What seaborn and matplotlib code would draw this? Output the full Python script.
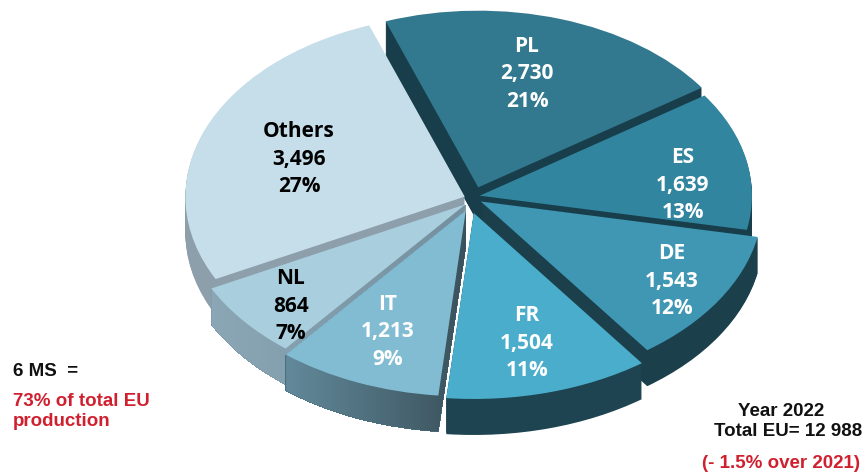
import numpy as np
import seaborn as sns
from matplotlib import pyplot as plt
from matplotlib.colors import LinearSegmentedColormap
from matplotlib.path import Path

# production by member state, year 2022
countries = ["PL", "ES", "DE", "FR", "IT", "NL", "Others"]
production = [2730, 1639, 1543, 1504, 1213, 864, 3496]
value_labels = ["2,730", "1,639", "1,543", "1,504", "1,213", "864", "3,496"]
share_labels = ["21%", "13%", "12%", "11%", "9%", "7%", "27%"]

top_colors = ["#32788e", "#32859f", "#3f97b4", "#4aadcb", "#82bcd3", "#a9cfdf", "#c6dee9"]
wall_colors = ["#173e4a", "#173e4a", "#1b404b", "#1d4450", "#4b717e", "#7f9bab", "#8c9fab"]
text_colors = ["white", "white", "white", "white", "white", "black", "black"]
explode = [0.06, 0.035, 0.045, 0.05, 0.02, 0.02, 0.02]
radii = [0.95, 0.955, 0.99, 1.0, 1.0, 1.0, 0.98]
# extra shift of each slice in pixels, the reference has some perspective
nudge = [(3, -6), (0, -7), (0, -7), (0, 0), (-2, 3), (0, -2), (0, -6)]
draw_order = [0, 1, 2, 5, 4, 3, 1]  # back slices first

# horizontal shading on the light walls, index of slice: (left, right)
wall_shade = {4: ("#62899a", "#3a525c"), 5: ("#8ba6b4", "#748f9d")}

# label position in pixels (x, y of the middle line)
label_pos = [(527, 74), (683, 185), (672, 281), (527, 343), (388, 332), (291, 306), (299, 159)]

cx, cy = 470, 204
rx, ry = 285, 186
depth = 36
start_angle = 110

sns.set_theme(style="white")
fig = plt.figure(figsize=(8.64, 4.72), dpi=100)
ax = fig.add_axes([0, 0, 1, 1])

# stack of darker pies for the side wall, top pie last
wall_paths = {i: [] for i in wall_shade}
for k in range(depth, -1, -1):
    colors = top_colors if k == 0 else wall_colors
    wedges, _ = ax.pie(
        production,
        colors=sns.color_palette(colors),
        explode=explode,
        startangle=start_angle,
        counterclock=False,
        center=(0, -k / ry),
    )
    for i, w in enumerate(wedges):
        w.set_radius(radii[i])
        w.set_center((w.center[0] + nudge[i][0] / rx, w.center[1] - nudge[i][1] / ry))
        w.set_zorder(draw_order[i] * 100 + depth - k + 1)
        w.set_linewidth(0)
        if k > 0 and i in wall_paths:
            w.set_antialiased(False)
            wall_paths[i].append(w.get_path())

xlim = (-cx / rx, (864 - cx) / rx)
ylim = ((cy - 472) / ry, cy / ry)

for i, (left, right) in wall_shade.items():
    outline = Path.make_compound_path(*wall_paths[i])
    x0, x1 = outline.vertices[:, 0].min(), outline.vertices[:, 0].max()
    y0, y1 = outline.vertices[:, 1].min(), outline.vertices[:, 1].max()
    cmap = LinearSegmentedColormap.from_list("wall", [left, right])
    im = ax.imshow(
        np.linspace(0, 1, 64).reshape(1, -1),
        cmap=cmap,
        extent=(x0, x1, y0, y1),
        aspect="auto",
        zorder=draw_order[i] * 100 + depth + 0.5,
    )
    im.set_clip_path(outline, ax.transData)

ax.set_aspect("auto")
ax.set_xlim(*xlim)
ax.set_ylim(*ylim)
ax.axis("off")


def px_text(x, y, s, **kwargs):
    fig.text(x / 864, 1 - y / 472, s, va="center", zorder=2000, **kwargs)


for i, name in enumerate(countries):
    x, y = label_pos[i]
    lines = [name, value_labels[i], share_labels[i]]
    for j, line in enumerate(lines):
        px_text(
            x, y + (j - 1) * 27.5, line,
            ha="center", color=text_colors[i], fontsize=15,
            fontweight="bold", family="Open Sans",
        )

side = dict(family="Liberation Sans", fontweight="bold", fontsize=13.5)
red = "#d0202f"
px_text(13, 372, "6 MS  =", ha="left", color="#111111", **side)
px_text(13, 401, "73% of total EU", ha="left", color=red, **side)
px_text(13, 422, "production", ha="left", color=red, **side)
px_text(781, 411, "Year 2022", ha="center", color="#111111", **side)
px_text(862, 432, "Total EU= 12 988", ha="right", color="#111111", **side)
px_text(860, 463, "(- 1.5% over 2021)", ha="right", color=red, **side)

fig.savefig("out.png", dpi=100)
